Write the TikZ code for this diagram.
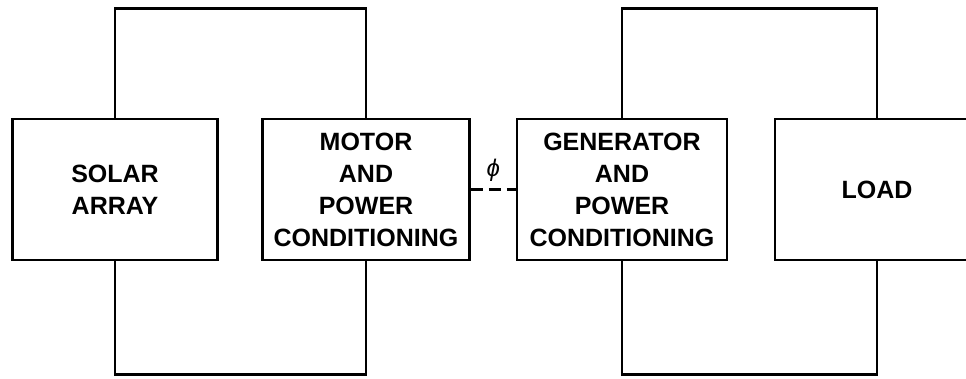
\documentclass[tikz,border=0pt]{standalone}
\usepackage{fontspec}
\setmainfont{Liberation Sans}

\begin{document}
\begin{tikzpicture}[x=1pt,y=-1pt,line width=2.6pt,
  blk/.style={rectangle,draw,minimum width=205pt,minimum height=141pt,inner sep=0pt,
    align=center,font=\fontsize{25}{32}\selectfont\bfseries}]
  \useasboundingbox (0,0) rectangle (966,378);
  \node[blk] (solar) at (115,189.5) {SOLAR\\ARRAY};
  \node[blk,minimum width=207pt] (motor) at (366,189.5) {MOTOR\\AND\\POWER\\CONDITIONING};
  \node[blk,minimum width=210pt] (gen) at (622,189.5) {GENERATOR\\AND\\POWER\\CONDITIONING};
  \node[blk,minimum width=204pt] (load) at (877,189.5) {LOAD};

  \draw (solar.north) -- ++(0,-109) -| (motor.north);
  \draw (solar.south) -- ++(0,113) -| (motor.south);
  \draw (gen.north) -- ++(0,-109) -| (load.north);
  \draw (gen.south) -- ++(0,113) -| (load.south);
  \draw[dash pattern=on 12pt off 6pt] (motor.east) -- (gen.west)
    node[midway,above=3pt,font=\fontsize{24}{24}\selectfont\itshape] {ϕ};
\end{tikzpicture}
\end{document}
